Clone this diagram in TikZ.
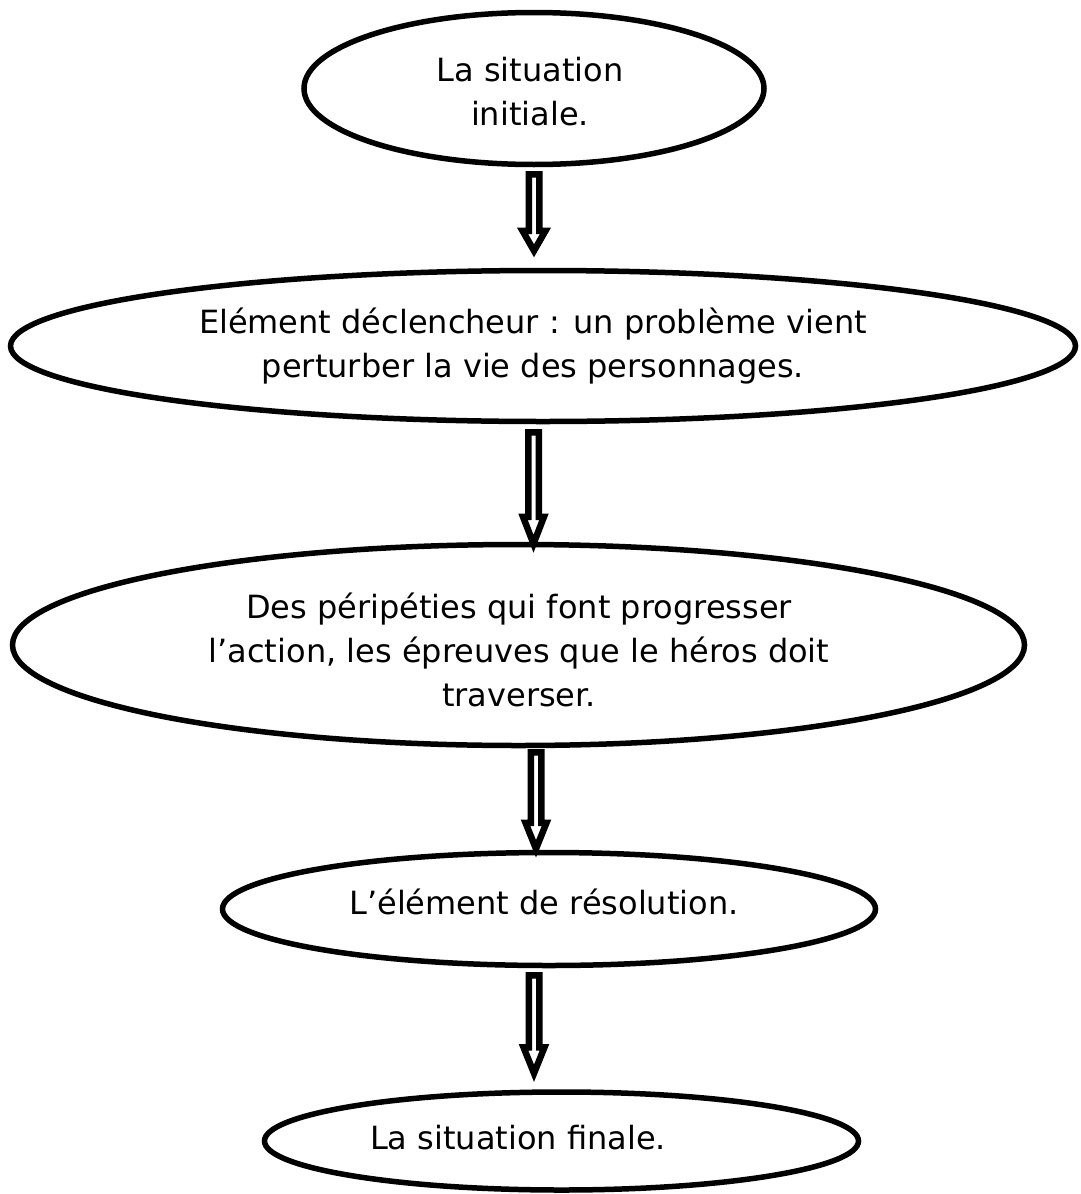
\documentclass[tikz,border=0pt]{standalone}
\usepackage{fontspec}
\setmainfont{DejaVu Sans}
\usetikzlibrary{shapes.geometric,calc}
\tikzset{
  oval/.style={ellipse, draw=black, line width=5.5pt, fill=white, inner sep=0pt},
  txt/.style={align=center, inner sep=0pt, font=\fontsize{32pt}{44pt}\selectfont},
  blockarr/.style={draw=black, fill=white, line width=6.5pt, line join=miter, miter limit=20}
}
% #1 start (shaft top), #2 tip, #3 head length, #4 head half width
\newcommand{\blockarrow}[4]{%
  \path[blockarr] let \p1=#1, \p2=#2 in
    (\x1-5.25,\y1) -- (\x1+5.25,\y1) -- (\x1+5.25,\y2+#3) -- (\x1+#4,\y2+#3) --
    (\x1,\y2) -- (\x1-#4,\y2+#3) -- (\x1-5.25,\y2+#3) -- cycle;}
\begin{document}
\begin{tikzpicture}[x=1pt,y=-1pt]
\useasboundingbox (0,0) rectangle (1081,1194);
\fill[white] (0,0) rectangle (1081,1194);

\node[oval, minimum width=460pt, minimum height=152pt] (e1) at (534,88.5) {};
\node[oval, minimum width=1065pt, minimum height=151pt] (e2) at (543,346) {};
\node[oval, minimum width=1012pt, minimum height=201pt] (e3) at (518.5,645) {};
\node[oval, minimum width=653pt, minimum height=113pt] (e4) at (549,909) {};
\node[oval, minimum width=594pt, minimum height=98pt] (e5) at (561.5,1141) {};

\node[txt] (t1) at (530,92) {La situation\\initiale.};
\node[txt] (t2) at (533,346) {Elément déclencheur : un problème vient\\perturber la vie des personnages.};
\node[txt] (t3) at (519,650) {Des péripéties qui font progresser\\l’action, les épreuves que le héros doit\\traverser.};
\node[txt] (t4) at (544,902) {L’élément de résolution.};
\node[txt] (t5) at (518,1138) {La situation finale.};

\blockarrow{($(e1.south)+(0,7)$)}{($(e2.north)+(0,-17)$)}{20}{11.5}
\blockarrow{($(e2.south)+(-9.5,8)$)}{($(e3.north)+(0,2)$)}{27}{10.5}
\blockarrow{($(e3.south)+(17.5,4)$)}{($(e4.north)+(0,-1)$)}{26}{10.5}
\blockarrow{($(e4.south)+(-15,7)$)}{($(e5.north)+(0,-16)$)}{26}{10.5}
\end{tikzpicture}
\end{document}
